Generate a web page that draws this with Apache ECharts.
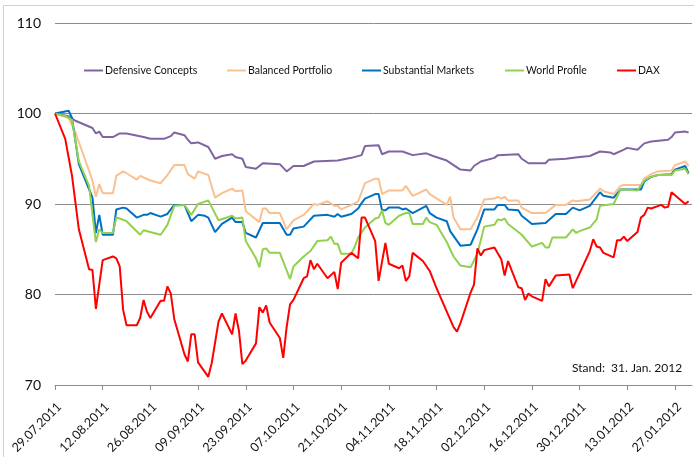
<!DOCTYPE html>
<html>
<head>
<meta charset="utf-8">
<script src="https://cdn.jsdelivr.net/npm/echarts@6/dist/echarts.min.js"></script>
<style>
  html, body { margin: 0; padding: 0; background: #fff; }
  #chart { width: 694px; height: 457px; }
</style>
</head>
<body>
<div id="chart"></div>
<script>
// x values are calendar days counted from 29.07.2011
const tickLabels = ['29.07.2011', '12.08.2011', '26.08.2011', '09.09.2011', '23.09.2011', '07.10.2011', '21.10.2011',
  '04.11.2011', '18.11.2011', '02.12.2011', '16.12.2011', '30.12.2011', '13.01.2012', '27.01.2012'];
const seriesNames = ['Defensive Concepts', 'Balanced Portfolio', 'Substantial Markets', 'World Profile', 'DAX'];
const seriesColors = ['#8064A2', '#FAC090', '#0070C0', '#92D050', '#FF0000'];

const defensiveDays = [0,4,6,11,12,13,14,17,19,21,26,28,32,34,35,38,39,40,42,45,47,49,52,53,55,56,59,61,66,68,
  70,73,76,83,87,90,91,95,96,98,102,105,109,111,115,117,119,122,123,125,129,130,136,137,139,144,145,150,154,157,
  160,163,164,167,168,171,173,175,180,181,182,185,186];
const defensiveValues = [100,99.7,99.2,98.4,97.8,98.0,97.4,97.4,97.8,97.8,97.4,97.2,97.2,97.5,97.9,97.6,97.1,96.7,96.8,96.3,
  95.0,95.3,95.5,95.2,95.0,94.1,93.9,94.5,94.4,93.6,94.2,94.2,94.7,94.8,95.1,95.4,96.4,96.5,95.5,95.8,
  95.8,95.4,95.6,95.3,94.8,94.3,93.8,93.7,94.2,94.7,95.1,95.4,95.5,95.0,94.5,94.5,94.9,95.0,95.2,95.3,
  95.8,95.7,95.5,96.0,96.2,96.0,96.7,96.9,97.1,97.4,97.9,98.0,97.9];

const balancedDays = [0,4,6,11,12,13,14,17,18,20,21,24,25,28,31,33,35,38,39,41,42,45,47,49,52,53,55,56,60,61,
  62,63,66,68,70,73,76,77,80,82,83,84,87,89,90,91,94,95,96,98,102,103,105,109,110,115,116,117,119,122,
  124,126,129,130,131,132,133,136,137,140,144,147,150,152,153,157,160,161,164,166,167,172,173,175,177,181,182,185,186];
const balancedValues = [100,99.5,97.9,92.6,90.8,92.2,91.2,91.2,93.1,93.6,93.4,92.7,93.1,92.6,92.3,93.2,94.3,94.3,93.3,92.8,
  93.6,93.2,90.7,91.2,91.7,91.4,91.5,89.2,88.0,89.5,89.5,89.0,89.0,87.2,88.2,88.8,90.0,89.9,90.3,89.8,
  89.8,89.4,89.9,90.3,91.3,92.3,92.8,92.8,91.1,91.5,91.5,92.0,90.9,91.6,91.1,89.9,90.8,88.5,87.2,87.2,
  88.5,90.5,90.6,90.8,90.6,90.8,90.4,90.4,89.6,89.0,89.0,89.9,89.9,90.4,90.3,90.5,91.7,91.4,91.1,92.0,
  92.1,92.1,92.8,93.3,93.6,93.7,94.3,94.7,94.2];

const substantialDays = [0,4,5,7,11,12,13,14,17,18,20,21,24,26,27,28,31,33,35,38,40,42,44,45,47,49,52,53,55,56,
  59,61,66,68,69,70,73,76,80,82,83,84,87,89,90,91,94,95,96,97,98,101,102,103,105,109,110,112,115,116,
  119,122,124,126,129,130,132,133,136,137,140,144,147,150,152,154,157,160,161,164,166,167,172,173,175,177,181,182,185,186];
const substantialValues = [100,100.3,99.5,94.4,90.7,86.8,88.8,86.6,86.6,89.4,89.6,89.5,88.5,88.8,88.8,89.0,88.6,88.9,89.9,89.9,
  88.1,88.8,88.7,88.5,86.9,87.8,88.5,88.0,88.0,86.8,86.3,87.9,87.9,86.6,86.6,87.3,87.5,88.7,88.8,88.6,
  88.9,88.6,88.9,89.5,90.1,90.6,91.1,91.1,89.3,89.3,89.6,89.6,89.4,89.5,89.0,89.8,89.0,88.5,88.1,87.0,
  85.4,85.5,87.2,89.4,89.4,89.9,89.9,89.4,89.3,88.7,87.8,87.9,88.9,88.9,89.6,89.3,89.8,91.3,90.9,90.7,
  91.6,91.6,91.6,92.5,93.0,93.2,93.3,93.8,94.2,93.4];

const worldDays = [0,3,5,7,10,11,12,13,14,17,18,19,21,25,26,31,33,35,38,40,42,45,48,52,53,55,56,59,60,61,
  62,63,66,69,70,73,75,77,80,81,82,83,84,87,88,89,91,94,95,96,97,98,101,103,104,105,108,109,110,112,
  115,117,119,122,124,126,129,130,131,132,133,136,137,140,143,144,145,146,150,152,153,154,157,159,160,164,166,167,171,173,
  175,177,181,182,185,186];
const worldValues = [100,99.7,99.3,94.7,92.0,88.8,85.8,87.2,86.8,86.8,88.5,88.4,88.1,86.6,87.1,86.6,87.7,89.8,89.9,88.8,
  90.0,90.4,88.2,88.7,88.4,88.5,85.9,84.0,83.0,85.0,85.1,84.6,84.6,81.7,83.1,84.2,84.8,85.9,86.0,86.4,
  85.6,85.6,84.5,84.5,85.3,86.3,87.4,88.4,88.5,89.3,87.9,87.7,88.7,89.0,89.0,87.8,87.8,88.5,88.0,87.7,
  85.8,84.2,83.2,83.0,84.5,87.5,87.7,88.3,88.2,88.4,87.8,86.9,86.6,85.3,85.7,85.2,85.2,86.3,86.3,87.2,
  86.8,87.0,87.4,88.3,89.8,90.0,91.6,91.6,91.5,92.6,93.0,93.2,93.2,93.7,93.9,93.3];

const daxDays = [0,3,5,7,10,11,12,14,17,18,19,20,21,24,25,26,27,28,31,32,33,34,35,38,39,40,41,42,45,46,
  48,49,52,53,54,55,56,59,60,61,62,63,66,67,68,69,70,73,74,75,76,77,80,82,83,84,87,89,90,91,
  94,95,97,98,101,102,103,104,105,108,110,112,117,118,119,122,123,124,125,126,129,131,132,133,136,137,138,139,140,143,
  144,145,147,151,152,157,158,159,160,161,164,165,166,167,168,171,172,173,174,175,178,179,180,181,185,186];
const daxValues = [100,97.2,93.1,87.2,82.8,82.7,78.4,83.8,84.2,84.0,83.1,78.3,76.6,76.6,77.4,79.4,78.1,77.4,79.3,79.3,
  80.9,80.1,77.3,73.4,72.6,75.6,75.6,72.5,70.9,72.4,77.0,77.9,75.6,77.9,76.0,72.3,72.7,74.6,78.6,78.0,
  78.8,76.9,75.2,73.0,76.4,78.9,79.4,81.8,82.0,83.8,82.8,83.4,81.8,82.5,80.6,83.5,84.6,84.0,88.5,88.5,
  85.9,81.5,85.7,83.4,82.9,83.2,81.5,82.0,84.6,83.7,82.6,80.7,76.4,75.9,76.8,80.2,81.1,85.1,84.3,84.9,
  85.2,83.9,82.1,83.7,80.8,80.7,79.4,80.1,79.8,79.3,81.7,80.9,82.1,82.2,80.7,84.8,86.1,85.3,85.2,84.6,
  84.1,86.0,86.0,86.4,85.9,86.9,88.5,88.8,89.6,89.5,89.9,89.6,89.7,91.3,90.0,90.3];

const allDays = [defensiveDays, balancedDays, substantialDays, worldDays, daxDays];
const allValues = [defensiveValues, balancedValues, substantialValues, worldValues, daxValues];
const legendLeft = [84, 227, 362, 505, 617];

function pairs(days, values) {
  return days.map((d, i) => [d, values[i]]);
}

const font = 'Lato, "Liberation Sans", sans-serif';
const gridColor = '#8c8c8c';

const chart = echarts.init(document.getElementById('chart'), null, { renderer: 'canvas' });

const option = {
  backgroundColor: '#fff',
  animation: false,
  grid: { left: 55, right: 2, top: 23, bottom: 72, containLabel: false },
  legend: seriesNames.map((name, i) => ({
    data: [name],
    left: legendLeft[i],
    top: 65,
    padding: 0,
    icon: 'rect',
    itemWidth: 19,
    itemHeight: 2,
    textStyle: { fontFamily: font, fontSize: 10.5, color: '#111', padding: [0, 0, 0, -3] }
  })),
  xAxis: {
    type: 'value',
    min: 0,
    max: 187,
    interval: 14,
    splitLine: { show: false },
    axisLine: { lineStyle: { color: gridColor, width: 1 } },
    axisTick: { show: true, length: 5, lineStyle: { color: gridColor } },
    axisLabel: {
      rotate: 45,
      margin: 24,
      padding: [0, -6, 0, 0],
      fontFamily: font,
      fontSize: 12.5,
      color: '#111',
      showMaxLabel: false,
      formatter: v => (v % 14 === 0 ? tickLabels[v / 14] : '')
    }
  },
  yAxis: {
    type: 'value',
    min: 70,
    max: 110,
    interval: 10,
    axisLine: { show: false },
    axisTick: { show: false },
    splitLine: { lineStyle: { color: gridColor, width: 1 } },
    axisLabel: { margin: 14, fontFamily: font, fontSize: 14, color: '#111' }
  },
  series: seriesNames.map((name, i) => ({
    name: name,
    type: 'line',
    symbol: 'none',
    data: pairs(allDays[i], allValues[i]),
    itemStyle: { color: seriesColors[i] },
    lineStyle: { color: seriesColors[i], width: 2 }
  })),
  graphic: [
    {
      type: 'rect',
      shape: { x: 3.5, y: 5.5, width: 720, height: 480 },
      style: { fill: 'none', stroke: '#d0d0d0', lineWidth: 1 },
      silent: true
    },
    {
      type: 'text',
      left: 572,
      top: 362,
      style: { text: 'Stand:  31. Jan. 2012', font: '12px ' + font, fill: '#111' }
    }
  ]
};

chart.setOption(option);
</script>
</body>
</html>
